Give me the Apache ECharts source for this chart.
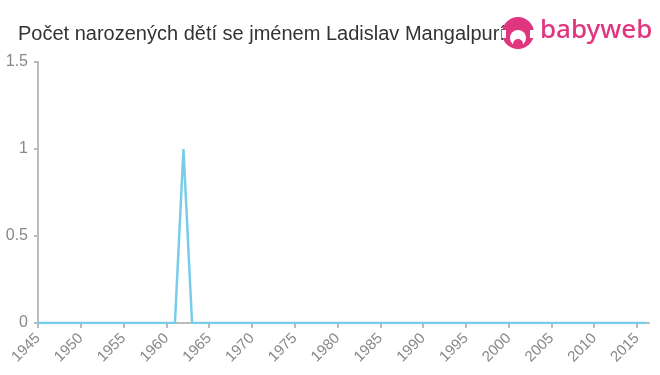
<!DOCTYPE html>
<html><head><meta charset="utf-8">
<script src="https://cdn.jsdelivr.net/npm/echarts@6/dist/echarts.min.js"></script>
<style>html,body{margin:0;padding:0;background:#fff}#c{width:660px;height:375px}</style>
</head><body><div id="c"></div>
<script>
const titleText = "Počet narozených dětí se jménem Ladislav Mangalpurí";
const years = [];
for (let y = 1945; y <= 2016; y++) years.push(y);
const births = [0,0,0,0,0,0,0,0,0,0,0,0,0,0,0,0,0,1,0,0,0,0,0,0,0,0,0,0,0,0,0,0,0,0,0,0,0,0,0,0,0,0,0,0,0,0,0,0,0,0,0,0,0,0,0,0,0,0,0,0,0,0,0,0,0,0,0,0,0,0,0,0];
const xTicks = [1945,1950,1955,1960,1965,1970,1975,1980,1985,1990,1995,2000,2005,2010,2015];
const yTicks = [0,0.5,1,1.5];

const chart = echarts.init(document.getElementById('c'));
chart.setOption({
  animation: false,
  textStyle: {fontFamily: 'Liberation Sans, Arial, sans-serif'},
  title: {text: titleText, left: 13, top: 19, textStyle: {fontSize: 20, fontWeight: 'normal', color: '#333', fontFamily: 'Liberation Sans, Arial, sans-serif'}},
  grid: {left: 38, right: 11, top: 62, bottom: 52, containLabel: false},
  xAxis: {
    type: 'value', min: 1945, max: 2016.4,
    axisLine: {show: true, lineStyle: {color: '#bbb', width: 2}},
    axisTick: {show: true, customValues: xTicks, length: 5, lineStyle: {color: '#bbb', width: 2}},
    axisLabel: {customValues: xTicks, rotate: 45, color: '#888', fontSize: 15, margin: 13, formatter: v => String(v)},
    splitLine: {show: false}
  },
  yAxis: {
    type: 'value', min: 0, max: 1.5, interval: 0.5,
    axisLine: {show: true, lineStyle: {color: '#bbb', width: 2}},
    axisTick: {show: true, length: 4, lineStyle: {color: '#bbb', width: 2}},
    axisLabel: {color: '#888', fontSize: 16, margin: 10},
    splitLine: {show: false}
  },
  series: [{
    type: 'line', data: years.map((y, i) => [y, births[i]]),
    showSymbol: false, lineStyle: {color: '#79cdea', width: 2.5}, itemStyle: {color: '#79cdea'}, z: 5
  }],
  graphic: [
    {type: 'circle', shape: {cx: 518, cy: 33, r: 16}, style: {fill: '#e0357f'}, z: 10},
    {type: 'circle', shape: {cx: 518, cy: 38, r: 8}, style: {fill: '#fff'}, z: 11},
    {type: 'rect', shape: {x: 502, y: 30, width: 4, height: 8}, style: {fill: '#fff'}, z: 11},
    {type: 'rect', shape: {x: 530, y: 30, width: 4, height: 8}, style: {fill: '#fff'}, z: 11},
    {type: 'circle', shape: {cx: 518, cy: 44, r: 5}, style: {fill: '#e0357f'}, z: 12},
    {type: 'text', left: 540, top: 18, style: {text: 'babyweb', fill: '#e0357f', font: '500 26px "Noto Sans", Arial, sans-serif'}, z: 10}
  ]
});
</script></body></html>
